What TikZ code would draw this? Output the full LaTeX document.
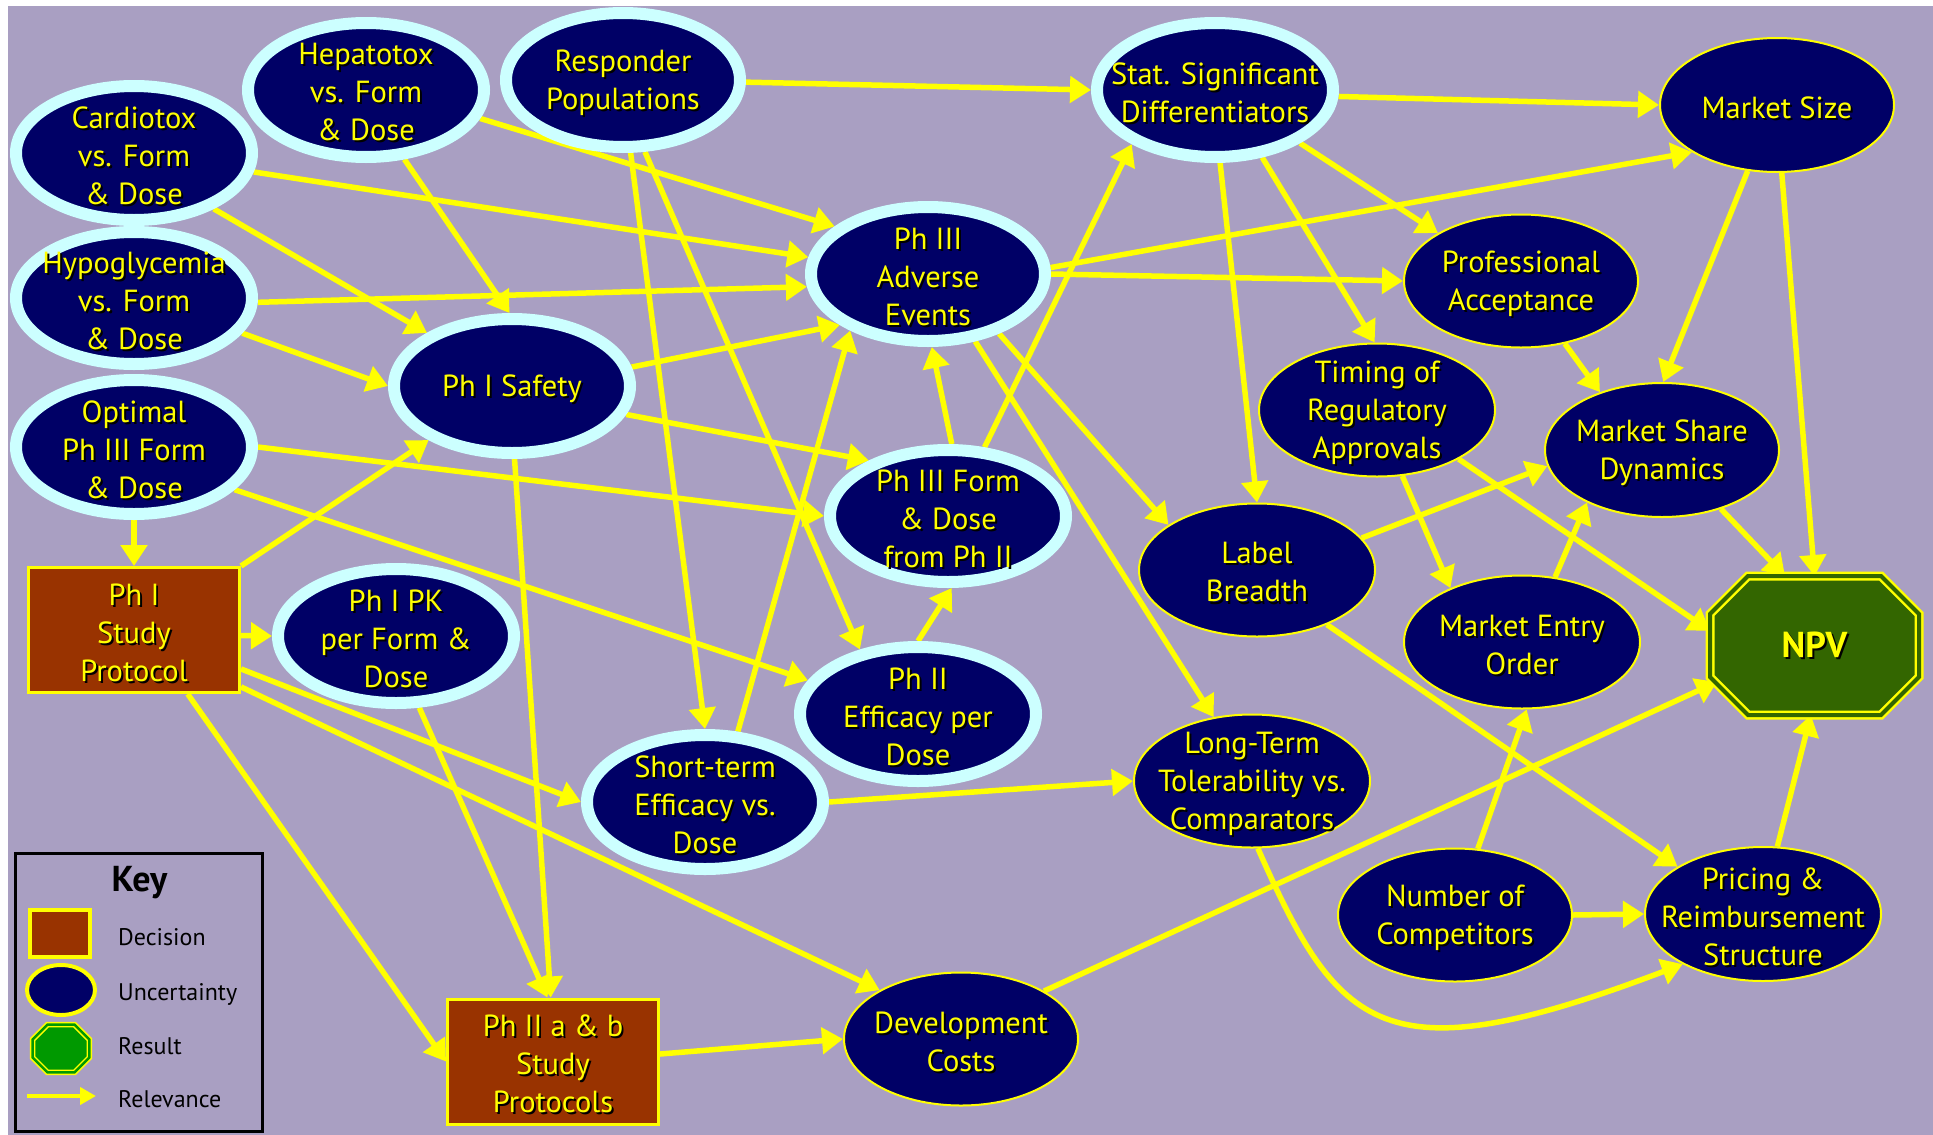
\documentclass[tikz,border=0pt]{standalone}
\usepackage{fontspec}
\setmainfont{PT Sans}
\usetikzlibrary{shapes.geometric,arrows.meta,calc}
\pgfdeclarelayer{back}
\pgfdeclarelayer{edges}
\pgfsetlayers{back,edges,main}
\definecolor{bgc}{RGB}{169,159,194}
\definecolor{navy}{RGB}{0,0,102}
\definecolor{ringc}{RGB}{204,255,255}
\definecolor{brownc}{RGB}{153,51,0}
\definecolor{npvg}{RGB}{51,102,0}
\definecolor{keyg}{RGB}{0,153,0}
\definecolor{yel}{RGB}{255,255,0}
\newcommand\sh[1]{\leavevmode\rlap{\kern2pt\raisebox{-2pt}{\textcolor{black}{#1}}}#1}
\newcommand\octpath[2]{($(#1.north west)+(#2,0)$) -- ($(#1.north east)+(-#2,0)$) -- ($(#1.north east)+(0,#2)$) -- ($(#1.south east)+(0,-#2)$) -- ($(#1.south east)+(-#2,0)$) -- ($(#1.south west)+(#2,0)$) -- ($(#1.south west)+(0,-#2)$) -- ($(#1.north west)+(0,#2)$) -- cycle}
\begin{document}
\begin{tikzpicture}[x=1pt,y=-1pt,
  txt/.style={text=yel, align=center, font=\fontsize{30.5}{38}\selectfont, inner sep=0pt},
  lbl/.style={label={[txt, yshift=-3.5pt]center:{#1}}},
  ring/.style={ellipse, fill=navy, draw=ringc, line width=12pt, minimum width=236pt, minimum height=134pt, inner sep=0pt},
  thin/.style={ellipse, fill=navy, draw=yel, line width=2pt, minimum width=236pt, minimum height=133pt, inner sep=0pt},
  decision/.style={rectangle, fill=brownc, draw=yel, line width=3pt, minimum width=211pt, minimum height=125pt, inner sep=0pt},
  rel/.style={draw=yel, line width=5.5pt, -{Triangle[length=21pt,width=26pt]}},
  keytxt/.style={text=black, font=\fontsize{24}{28}\selectfont, anchor=base west, inner sep=0pt}
]
\useasboundingbox (0,0) rectangle (1933,1135);
\begin{pgfonlayer}{back}
\fill[white] (0,0) rectangle (1933,1135);
\fill[bgc] (8,6) rectangle (1933,1135);
\end{pgfonlayer}

% cyan-ringed uncertainties
\node[ring, lbl={\sh{Cardiotox}\\\sh{vs. Form}\\\sh{\& Dose}}] (C) at (134,153) {};
\node[ring, lbl={\sh{Hepatotox}\\\sh{vs. Form}\\\sh{\& Dose}}] (H) at (366,90) {};
\node[ring, minimum width=234pt, lbl={\sh{Responder}\\\sh{Populations}}] (R) at (623,80) {};
\node[ring, lbl={\sh{Stat. Significant}\\\sh{Differentiators}}] (SS) at (1215,90) {};
\node[ring, minimum height=132pt, lbl={\sh{Hypoglycemia}\\\sh{vs. Form}\\\sh{\& Dose}}] (Y) at (134,298) {};
\node[ring, lbl={\sh{Optimal}\\\sh{Ph III Form}\\\sh{\& Dose}}] (O) at (134,447) {};
\node[ring, lbl={\sh{Ph I Safety}}] (S1) at (512,386) {};
\node[ring, minimum width=234pt, lbl={\sh{Ph III}\\\sh{Adverse}\\\sh{Events}}] (AE) at (928,274) {};
\node[ring, minimum height=132pt, lbl={\sh{Ph III Form}\\\sh{\& Dose}\\\sh{from Ph II}}] (FD) at (948,516) {};
\node[ring, lbl={\sh{Ph I PK}\\\sh{per Form \&}\\\sh{Dose}}] (PK) at (396,636) {};
\node[ring, lbl={\sh{Ph II}\\\sh{Efficacy per}\\\sh{Dose}}] (E2) at (918,714) {};
\node[ring, lbl={\sh{Short-term}\\\sh{Efficacy vs.}\\\sh{Dose}}] (SE) at (705,802) {};

% thin-bordered uncertainties
\node[thin, minimum width=234pt, minimum height=134pt, lbl={\sh{Market Size}}] (MS) at (1777,105) {};
\node[thin, minimum width=234pt, lbl={\sh{Professional}\\\sh{Acceptance}}] (PA) at (1521,281) {};
\node[thin, lbl={\sh{Timing of}\\\sh{Regulatory}\\\sh{Approvals}}] (T) at (1377,410) {};
\node[thin, minimum width=234pt, minimum height=134pt, lbl={\sh{Market Share}\\\sh{Dynamics}}] (MSD) at (1662,450) {};
\node[thin, lbl={\sh{Label}\\\sh{Breadth}}] (LB) at (1257,570) {};
\node[thin, lbl={\sh{Market Entry}\\\sh{Order}}] (ME) at (1522,642) {};
\node[thin, lbl={\sh{Long-Term}\\\sh{Tolerability vs.}\\\sh{Comparators}}] (LT) at (1252,781) {};
\node[thin, minimum width=234pt, lbl={\sh{Number of}\\\sh{Competitors}}] (NC) at (1455,915) {};
\node[thin, minimum height=134pt, lbl={\sh{Pricing \&}\\\sh{Reimbursement}\\\sh{Structure}}] (PR) at (1763,914) {};
\node[thin, minimum width=234pt, lbl={\sh{Development}\\\sh{Costs}}] (DC) at (961,1039) {};

% decisions
\node[decision, lbl={\sh{Ph I}\\\sh{Study}\\\sh{Protocol}}] (P1) at (134,630) {};
\node[decision, lbl={\sh{Ph II a \& b}\\\sh{Study}\\\sh{Protocols}}] (P2) at (553,1061.5) {};

% result
\node[rectangle, minimum width=200pt, minimum height=130pt, inner sep=0pt, outer sep=4.5pt,
      text=yel, font=\bfseries\fontsize{36}{40}\selectfont] (NPV) at (1814.5,645.5) {\sh{NPV}};

% key
\draw[black, line width=3pt] (15.5,853.5) rectangle (262.5,1131.5);
\node[text=black, font=\bfseries\fontsize{36}{40}\selectfont, anchor=base, inner sep=0pt] (ktitle) at (139.5,891) {Key};
\node[rectangle, fill=brownc, draw=yel, line width=4pt, minimum width=60pt, minimum height=47pt, inner sep=0pt] (kD) at (60,933.5) {};
\node[ellipse, fill=navy, draw=yel, line width=4pt, minimum width=68pt, minimum height=50pt, inner sep=0pt] (kU) at (61,990) {};
\node[rectangle, minimum width=56.5pt, minimum height=47.5pt, inner sep=0pt] (kR) at (61,1048.5) {};
\coordinate (kA1) at (27,1096);
\coordinate (kA2) at (96,1096);
\node[keytxt] (kDt) at (118,945) {Decision};
\node[keytxt] (kUt) at (118,1000) {Uncertainty};
\node[keytxt] (kRt) at (118,1054) {Result};
\node[keytxt] (kAt) at (118,1107) {Relevance};
\coordinate (npvDC) at ($(NPV.south west)+(7,-33)$);

\begin{pgfonlayer}{edges}
\draw[rel] (C.-9) -- (AE.172);
\draw[rel] (C.-35) -- (S1.148);
\draw[rel] (H.-14) -- (AE.153);
\draw[rel] (H.-61) -- (S1.92);
\draw[rel] (R.-1) -- (SS.180);
\draw[rel] (R.-84) -- (SE.90);
\draw[rel] (R.-73) -- (E2.132);
\draw[rel] (Y.-2) -- (AE.186);
\draw[rel] (Y.-18) -- (S1.180);
\draw[rel] (O.0) -- (FD.180);
\draw[rel] (O.-23) -- (E2.163);
\draw[rel] (O.south) -- (P1.north);
\draw[rel] (P1.north east) -- (S1.213);
\draw[rel] (P1.-3) -- (PK.180);
\draw[rel] (P1.-20.5) -- (SE.180);
\draw[rel] (P1.-28.5) -- (DC.149);
\draw[rel] (P1.-50) -- (P2.west);
\draw[rel] (PK.-72) -- (P2.95);
\draw[rel] (S1.-88) -- (P2.92);
\draw[rel] (S1.9) -- (AE.210);
\draw[rel] (S1.-14) -- (FD.145);
\draw[rel] (AE.3) -- (MS.209);
\draw[rel] (AE.0) -- (PA.180);
\draw[rel] (AE.-40) -- (LB.153);
\draw[rel] (AE.-55) -- (LT.121);
\draw[rel] (FD.87) -- (AE.-87);
\draw[rel] (FD.62) -- (SS.213);
\draw[rel] (E2.90) -- (FD.-87);
\draw[rel] (SE.65) -- (AE.216);
\draw[rel] (SE.0) -- (LT.180);
\draw[rel] (SS.-3) -- (MS.180);
\draw[rel] (SS.-32) -- (PA.150);
\draw[rel] (SS.-55) -- (T.92);
\draw[rel] (SS.-86) -- (LB.90);
\draw[rel] (MS.246) -- (MSD.89);
\draw[rel] (MS.-86) -- (NPV.90);
\draw[rel] (PA.-55) -- (MSD.137);
\draw[rel] (T.-69) -- (ME.143);
\draw[rel] (T.-31) -- (NPV.172);
\draw[rel] (MSD.-45) -- (NPV.113);
\draw[rel] (LB.17) -- (MSD.188);
\draw[rel] (LB.-38) -- (PR.151);
\draw[rel] (ME.63) -- (MSD.215);
\draw[rel] (NC.71) -- (ME.-86);
\draw[rel] (NC.0) -- (PR.180);
\draw[rel] (PR.78) -- (NPV.-93);
\draw[rel] (LT.-85) .. controls (1339,1032) and (1383,1078) .. (PR.212);
\draw[rel] (DC.30) -- (npvDC);
\draw[rel] (P2.4.5) -- (DC.180);
\draw[draw=yel, line width=4pt, -{Triangle[length=16pt,width=17pt]}] (kA1) -- (kA2);
% octagons (drawn below their node texts)
\filldraw[fill=npvg, draw=yel, double=npvg, line width=2.5pt, double distance=4pt] \octpath{NPV}{38};
\filldraw[fill=keyg, draw=yel, double=keyg, line width=1.5pt, double distance=2.5pt] \octpath{kR}{15};
\end{pgfonlayer}
\end{tikzpicture}
\end{document}
